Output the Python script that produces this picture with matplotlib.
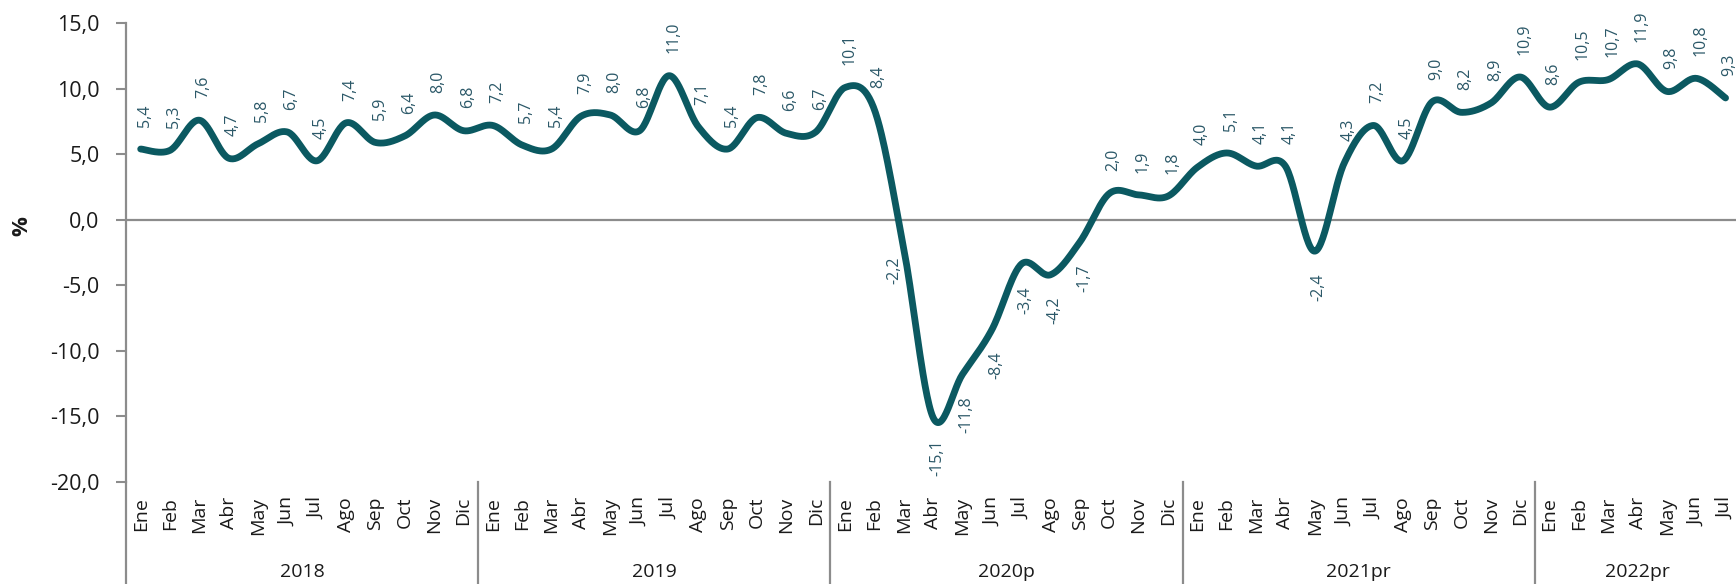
import numpy as np
import matplotlib
matplotlib.use("Agg")
import matplotlib.pyplot as plt
from matplotlib.ticker import FuncFormatter

plt.rcParams['font.family'] = ['Open Sans', 'DejaVu Sans']

# ---- data ----
years = ["2018", "2019", "2020p", "2021pr", "2022pr"]
months_per_year = [12, 12, 12, 12, 7]
month_names = ["Ene", "Feb", "Mar", "Abr", "May", "Jun", "Jul", "Ago", "Sep", "Oct", "Nov", "Dic"]

values_2018 = [5.4, 5.3, 7.6, 4.7, 5.8, 6.7, 4.5, 7.4, 5.9, 6.4, 8.0, 6.8]
values_2019 = [7.2, 5.7, 5.4, 7.9, 8.0, 6.8, 11.0, 7.1, 5.4, 7.8, 6.6, 6.7]
values_2020 = [10.1, 8.4, -2.2, -15.1, -11.8, -8.4, -3.4, -4.2, -1.7, 2.0, 1.9, 1.8]
values_2021 = [4.0, 5.1, 4.1, 4.1, -2.4, 4.3, 7.2, 4.5, 9.0, 8.2, 8.9, 10.9]
values_2022 = [8.6, 10.5, 10.7, 11.9, 9.8, 10.8, 9.3]

y_ticks = [-20, -15, -10, -5, 0, 5, 10, 15]

values = values_2018 + values_2019 + values_2020 + values_2021 + values_2022
month_labels = []
for n in months_per_year:
    month_labels += month_names[:n]
n = len(values)
x = np.arange(n)
y = np.array(values, dtype=float)

# ---- style ----
LINE_C = "#0b5961"
LABEL_C = "#2b5868"
GRAY = "#8c8c8c"
TXT = "#1a1a1a"

W, H = 1736, 584
fig = plt.figure(figsize=(W / 100, H / 100), dpi=100)
left_px, top_px, bot_px = 126, 23.3, 481.7
cat_px = 29.35
ax = fig.add_axes([left_px / W, 1 - bot_px / H, n * cat_px / W, (bot_px - top_px) / H])

# smooth (Catmull-Rom style Bezier, like Excel's smoothed line)
def smooth(xs, ys, steps=30):
    P = np.column_stack([xs, ys])
    out = [P[0]]
    for i in range(len(P) - 1):
        p0 = P[i - 1] if i > 0 else P[i]
        p1 = P[i]
        p2 = P[i + 1]
        p3 = P[i + 2] if i + 2 < len(P) else P[i + 1]
        c1 = p1 + (p2 - p0) / 6.0
        c2 = p2 - (p3 - p1) / 6.0
        t = np.linspace(0, 1, steps)[1:, None]
        seg = ((1 - t) ** 3) * p1 + 3 * ((1 - t) ** 2) * t * c1 + 3 * (1 - t) * t ** 2 * c2 + t ** 3 * p2
        out.extend(seg)
    out = np.array(out)
    return out[:, 0], out[:, 1]

sx, sy = smooth(x, y)
ax.axhline(0, color=GRAY, lw=1.6, zorder=1)
ax.plot(sx, sy, color=LINE_C, lw=4.9, solid_capstyle="round", solid_joinstyle="round",
        zorder=3, clip_on=False)

# data labels
label_nudge = {26: (-7, -6)}
for i, v in enumerate(values):
    txt = f"{v:.1f}".replace(".", ",")
    dx, dy = 3, (16 if v >= 0 else -16)
    if i in label_nudge:
        dx, dy = label_nudge[i]
    ax.annotate(txt, (x[i], v), xytext=(dx, dy), textcoords="offset points",
                rotation=90, ha="center", va="bottom" if dy > 0 else "top",
                fontsize=11.5, color=LABEL_C, annotation_clip=False, zorder=4)

ax.set_xlim(-0.5, n - 0.5)
ax.set_ylim(-20, 15)
ax.set_yticks(y_ticks)
ax.yaxis.set_major_formatter(FuncFormatter(lambda v, p: f"{v:.1f}".replace(".", ",")))
ax.tick_params(axis="y", length=7, width=1.5, color=GRAY, pad=12, labelsize=15.5, labelcolor=TXT)
ax.set_xticks(x)
ax.set_xticklabels(month_labels, rotation=90, fontsize=14, color=TXT)
ax.tick_params(axis="x", length=0, pad=11)

for s in ["top", "right", "bottom"]:
    ax.spines[s].set_visible(False)
ax.spines["left"].set_color(GRAY)
ax.spines["left"].set_linewidth(1.6)

trans = ax.get_xaxis_transform()
# left spine extension and year separators
start = 0
bounds = [-0.5]
for m in months_per_year:
    start += m
    bounds.append(start - 0.5)
for b in bounds[:-1]:
    ax.plot([b, b], [0, -0.3], transform=trans, color=GRAY, lw=1.6, clip_on=False)

# year labels
start = 0
for yr, m in zip(years, months_per_year):
    c = start + (m - 1) / 2
    ax.text(c, -(572 - bot_px) / (bot_px - top_px), yr, transform=trans, ha="center", va="center",
            fontsize=14, color=TXT)
    start += m

fig.text(22 / W, 1 - 226 / H, "%", rotation=90, ha="center", va="center",
         fontsize=16, fontweight="bold", color=TXT)

fig.savefig("out.png", dpi=100)
